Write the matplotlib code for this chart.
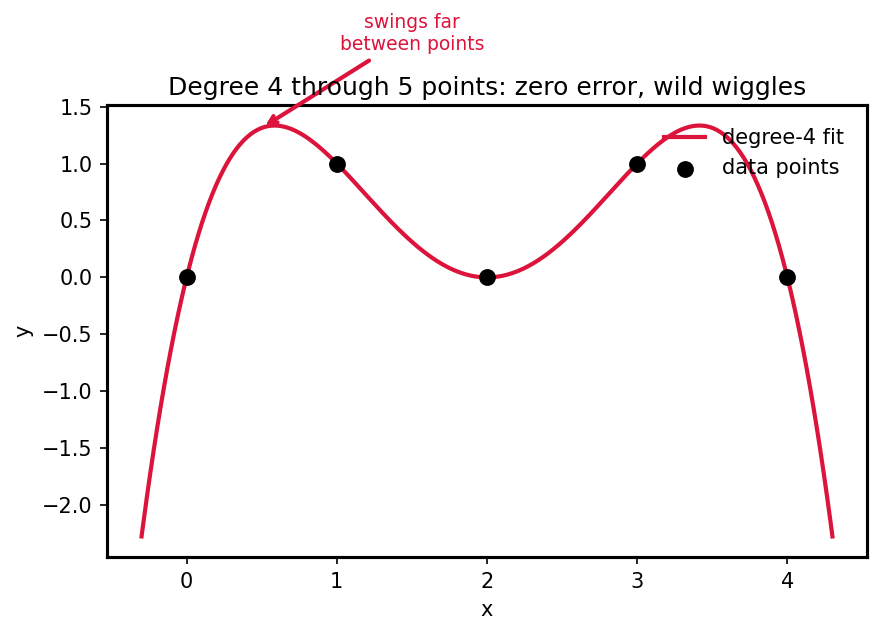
import numpy as np
import matplotlib
matplotlib.use("Agg")
import matplotlib.pyplot as plt

# data points and fit
x_pts = [0, 1, 2, 3, 4]
y_pts = [0, 1, 0, 1, 0]
deg = 4
color = "#DC143C"

coef = np.polyfit(x_pts, y_pts, deg)
xs = np.linspace(-0.3, 4.3, 400)
ys = np.polyval(coef, xs)

fig = plt.figure(figsize=(880 / 150, 634 / 150), dpi=150)
ax = fig.add_axes([107 / 880, 1 - 557 / 634, 760 / 880, 452 / 634])

ax.plot(xs, ys, color=color, lw=2, label="degree-4 fit")
ax.scatter(x_pts, y_pts, color="black", s=50, zorder=3, label="data points")

# arrow to the hump left of x=1
x_arrow = 0.5
ax.annotate("swings far\nbetween points", xy=(x_arrow, np.polyval(coef, x_arrow)),
            xytext=(1.5, 1.96), ha="center", va="bottom", color=color, fontsize=9,
            arrowprops=dict(arrowstyle="->", color=color, lw=2),
            annotation_clip=False)

ax.set_title("Degree 4 through 5 points: zero error, wild wiggles", pad=5)
ax.set_xlabel("x")
ax.set_ylabel("y")
ax.set_xticks([0, 1, 2, 3, 4])
for s in ax.spines.values():
    s.set_linewidth(1.5)
ax.legend(frameon=False, loc="upper right", borderaxespad=0.7)

fig.savefig("out.png", dpi=150)
